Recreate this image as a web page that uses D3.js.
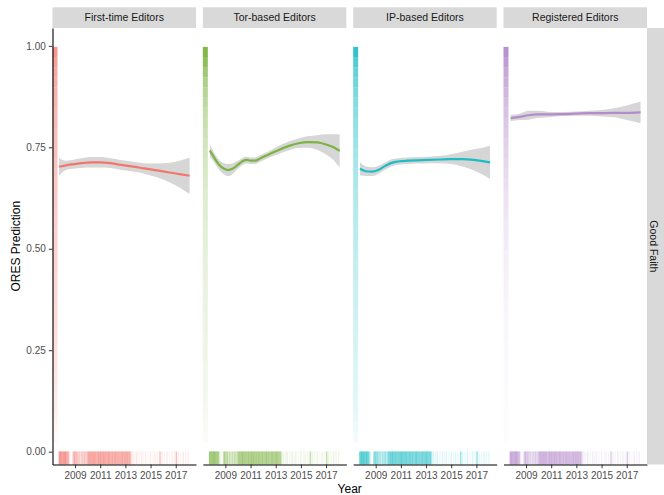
<!DOCTYPE html>
<html><head><meta charset="utf-8">
<script src="https://cdn.jsdelivr.net/npm/d3@7/dist/d3.min.js"></script>
<style>body{margin:0;background:#fff}svg{display:block;font-family:"Liberation Sans",Arial,Helvetica,sans-serif}</style>
</head><body><svg id="chart" width="664" height="495"></svg>
<script>
// ---------------- DATA ----------------
const categories = ["First-time Editors", "Tor-based Editors", "IP-based Editors", "Registered Editors"];
const rowLabel = "Good Faith";
const xTicks = [2009, 2011, 2013, 2015, 2017];
const yTicks = [0, 0.25, 0.5, 0.75, 1.0];

// loess smooth (year, fitted value, half-width of confidence band)
const firstTimeYears = [2007.73, 2008.2, 2008.8, 2009.5, 2010.3, 2011.0, 2011.8, 2012.6, 2013.5, 2014.5, 2015.5, 2016.5, 2017.3, 2018.1];
const firstTimeFit   = [0.702, 0.705, 0.708, 0.711, 0.713, 0.713, 0.711, 0.707, 0.703, 0.698, 0.693, 0.688, 0.684, 0.680];
const firstTimeSe    = [0.022, 0.012, 0.011, 0.012, 0.013, 0.013, 0.012, 0.012, 0.012, 0.013, 0.017, 0.024, 0.033, 0.045];

const torYears = [2007.77, 2008.1, 2008.5, 2008.9, 2009.2, 2009.6, 2010.0, 2010.4, 2010.7, 2011.0, 2011.35, 2011.8, 2012.5, 2013.2, 2014.0, 2014.8, 2015.5, 2016.3, 2017.0, 2017.6, 2018.08];
const torFit   = [0.742, 0.725, 0.707, 0.697, 0.694, 0.698, 0.707, 0.716, 0.719, 0.717, 0.717, 0.723, 0.733, 0.743, 0.753, 0.760, 0.763, 0.762, 0.757, 0.750, 0.741];
const torSe    = [0.015, 0.012, 0.012, 0.014, 0.015, 0.013, 0.010, 0.009, 0.008, 0.008, 0.008, 0.008, 0.008, 0.010, 0.011, 0.012, 0.014, 0.018, 0.025, 0.032, 0.041];

const ipYears = [2007.75, 2008.2, 2008.7, 2009.2, 2009.7, 2010.2, 2010.8, 2011.5, 2012.3, 2013.2, 2014.1, 2015.0, 2015.9, 2016.8, 2017.5, 2018.08];
const ipFit   = [0.697, 0.691, 0.690, 0.694, 0.703, 0.711, 0.715, 0.717, 0.718, 0.719, 0.720, 0.721, 0.721, 0.719, 0.716, 0.713];
const ipSe    = [0.016, 0.012, 0.011, 0.010, 0.009, 0.009, 0.008, 0.008, 0.008, 0.008, 0.009, 0.012, 0.018, 0.026, 0.033, 0.041];

const registeredYears = [2007.78, 2008.5, 2009.2, 2009.9, 2011.0, 2012.0, 2013.0, 2014.0, 2015.0, 2016.0, 2017.0, 2018.1];
const registeredFit   = [0.822, 0.825, 0.829, 0.831, 0.831, 0.832, 0.833, 0.834, 0.834, 0.835, 0.835, 0.836];
const registeredSe    = [0.008, 0.008, 0.011, 0.009, 0.006, 0.005, 0.005, 0.006, 0.008, 0.011, 0.018, 0.027];

// left rug: density bins of predicted values (bin centre) and the opacity read for each group
const rugPredBins = [0.985,0.96,0.935,0.91,0.885,0.86,0.835,0.81,0.785,0.76,0.735,0.71,0.685,0.66,0.635,0.61,0.585,0.56,0.535,0.51,0.485,0.46,0.435,0.41,0.385,0.36,0.335,0.31,0.285,0.26,0.235,0.21,0.185,0.16,0.135,0.11,0.085,0.06,0.035];
const rugPredFirstTime  = [0.75,0.68,0.62,0.6,0.56,0.55,0.52,0.5,0.48,0.46,0.45,0.44,0.42,0.4,0.39,0.38,0.36,0.35,0.34,0.33,0.32,0.31,0.3,0.29,0.28,0.27,0.26,0.25,0.24,0.22,0.21,0.2,0.18,0.16,0.14,0.12,0.1,0.07,0.05];
const rugPredTor        = [0.95,0.85,0.72,0.62,0.55,0.5,0.45,0.42,0.38,0.35,0.33,0.31,0.29,0.27,0.25,0.24,0.23,0.22,0.21,0.2,0.19,0.18,0.17,0.16,0.16,0.15,0.14,0.14,0.13,0.12,0.12,0.11,0.1,0.1,0.09,0.08,0.07,0.06,0.04];
const rugPredIP         = [0.9,0.76,0.68,0.62,0.57,0.53,0.5,0.47,0.45,0.43,0.41,0.39,0.37,0.36,0.34,0.33,0.32,0.31,0.3,0.29,0.27,0.26,0.25,0.24,0.23,0.22,0.21,0.2,0.19,0.18,0.17,0.16,0.15,0.14,0.13,0.12,0.1,0.08,0.06];
const rugPredRegistered = [0.95,0.85,0.75,0.68,0.62,0.56,0.52,0.48,0.44,0.4,0.37,0.34,0.31,0.28,0.25,0.23,0.21,0.19,0.17,0.16,0.14,0.13,0.12,0.11,0.1,0.09,0.08,0.07,0.07,0.06,0.06,0.05,0.05,0.04,0.04,0.03,0.03,0.03,0.02];

// bottom rug: edit dates (year) and opacity
const rugYears = [2007.75,2007.85,2007.95,2008.05,2008.15,2008.25,2008.35,2008.45,2008.55,2008.65,
  2008.85,2008.95,2009.05,2009.15,2009.25,2009.35,2009.45,2009.55,2009.65,2009.75,2009.85,2009.95,
  2010.05,2010.15,2010.25,2010.35,2010.45,2010.55,2010.65,2010.75,2010.85,2010.95,
  2011.05,2011.15,2011.25,2011.35,2011.45,2011.55,2011.65,2011.75,2011.85,2011.95,
  2012.05,2012.15,2012.25,2012.35,2012.45,2012.55,2012.65,2012.75,2012.85,2012.95,
  2013.05,2013.15,2013.25,2013.35,2013.45,2013.6,2013.75,2013.9,2014.1,2014.3,2014.45,2014.6,2014.8,
  2015.0,2015.2,2015.35,2015.55,2015.75,2015.9,2016.1,2016.3,2016.5,2016.7,2016.9,
  2017.05,2017.2,2017.4,2017.6,2017.8,2018.0];
const rugYearAlpha = [.7,.75,.7,.75,.7,.75,.65,.6,.2,.05,
  .4,.6,.4,.5,.28,.4,.2,.4,.28,.45,.28,.4,
  .6,.65,.6,.7,.6,.65,.6,.55,.65,.6,
  .7,.6,.65,.6,.65,.55,.65,.6,.55,.65,
  .5,.6,.65,.55,.6,.5,.6,.65,.55,.6,
  .65,.6,.55,.6,.3,.15,.1,.18,.09,.15,.08,.13,.07,
  .15,.08,.13,.1,.45,.15,.09,.15,.08,.13,.1,
  .45,.13,.08,.15,.1,.13];

// ---------------- STYLE / LAYOUT ----------------
const colors = ["#F2766E", "#7CB342", "#1CBDC4", "#B48BCB"];
const smooths = [
  {years: firstTimeYears, fit: firstTimeFit, se: firstTimeSe},
  {years: torYears, fit: torFit, se: torSe},
  {years: ipYears, fit: ipFit, se: ipSe},
  {years: registeredYears, fit: registeredFit, se: registeredSe}
];
const rugPred = [rugPredFirstTime, rugPredTor, rugPredIP, rugPredRegistered];

const panelW = 143.5, gap = 6.83, left0 = 52.5, panelTop = 28, panelBottom = 464.5;
const stripTop = 7.3;
const svg = d3.select("#chart");

const x = d3.scaleLinear().domain([2007.21, 2018.61]).range([0, panelW]);
const y = d3.scaleLinear().domain([-0.0316, 1.044]).range([panelBottom, panelTop]);
const binHalf = 0.0125;

categories.forEach((cat, i) => {
  const px = left0 + i * (panelW + gap);
  const g = svg.append("g").attr("transform", `translate(${px},0)`);

  // strip
  g.append("rect").attr("x", 0).attr("y", stripTop).attr("width", panelW).attr("height", panelTop - stripTop).attr("fill", "#D9D9D9");
  g.append("text").attr("x", panelW / 2).attr("y", (stripTop + panelTop) / 2).attr("dy", "0.35em")
    .attr("text-anchor", "middle").attr("font-size", 10.5).attr("fill", "#1A1A1A").text(cat);

  // left rug
  const rugW = 5;
  g.append("g").selectAll("rect").data(rugPredBins).join("rect")
    .attr("x", 0).attr("width", rugW)
    .attr("y", d => y(d + binHalf)).attr("height", d => y(d - binHalf) - y(d + binHalf))
    .attr("fill", colors[i]).attr("fill-opacity", (d, k) => rugPred[i][k]);

  // bottom rug
  const rugH = 0.03 * (panelBottom - panelTop);
  g.append("g").selectAll("rect").data(rugYears).join("rect")
    .attr("x", d => x(d) - 0.7).attr("width", 1.4)
    .attr("y", panelBottom - rugH).attr("height", rugH)
    .attr("fill", colors[i]).attr("fill-opacity", (d, k) => rugYearAlpha[k]);

  // smooth
  const s = smooths[i];
  const pts = s.years.map((yr, k) => ({yr, fit: s.fit[k], se: s.se[k]}));
  g.append("path").datum(pts)
    .attr("d", d3.area().curve(d3.curveMonotoneX).x(d => x(d.yr)).y0(d => y(d.fit - d.se)).y1(d => y(d.fit + d.se)))
    .attr("fill", "#D6D6D6");
  g.append("path").datum(pts)
    .attr("d", d3.line().curve(d3.curveMonotoneX).x(d => x(d.yr)).y(d => y(d.fit)))
    .attr("fill", "none").attr("stroke", colors[i]).attr("stroke-width", 2.2);

  // x axis
  const xa = g.append("g").attr("transform", `translate(0,${panelBottom})`)
    .call(d3.axisBottom(x).tickValues(xTicks).tickFormat(d3.format("d")).tickSize(3.7).tickSizeOuter(0).tickPadding(4));
  xa.select(".domain").attr("stroke", "#000").attr("stroke-width", 1.1);
  xa.selectAll(".tick line").attr("stroke", "#333").attr("stroke-width", 1);
  xa.selectAll("text").attr("font-size", 10).attr("fill", "#4D4D4D").attr("font-family", null);

  if (i === 0) {
    const ya = g.append("g")
      .call(d3.axisLeft(y).tickValues(yTicks).tickFormat(d3.format(".2f")).tickSize(3.7).tickSizeOuter(0).tickPadding(3));
    ya.select(".domain").attr("stroke", "#000").attr("stroke-width", 1.1);
    ya.selectAll(".tick line").attr("stroke", "#333").attr("stroke-width", 1);
    ya.selectAll("text").attr("font-size", 10).attr("fill", "#4D4D4D").attr("font-family", null);
  }
});

// right strip
const rightX = left0 + 4 * panelW + 3 * gap;
svg.append("rect").attr("x", rightX).attr("y", panelTop).attr("width", 664 - rightX).attr("height", panelBottom - panelTop).attr("fill", "#D9D9D9");
svg.append("text").attr("transform", `translate(${rightX + 6.5},${(panelTop + panelBottom) / 2}) rotate(90)`)
  .attr("text-anchor", "middle").attr("dy", "0.35em").attr("font-size", 10.5).attr("fill", "#1A1A1A").text(rowLabel);

// axis titles
svg.append("text").attr("x", (left0 + rightX) / 2).attr("y", 489).attr("dy", "0.35em")
  .attr("text-anchor", "middle").attr("font-size", 12).attr("fill", "#000").text("Year");
svg.append("text").attr("transform", `translate(16,${(panelTop + panelBottom) / 2}) rotate(-90)`)
  .attr("text-anchor", "middle").attr("dy", "0.35em").attr("font-size", 12).attr("fill", "#000").text("ORES Prediction");
</script>
</body></html>
